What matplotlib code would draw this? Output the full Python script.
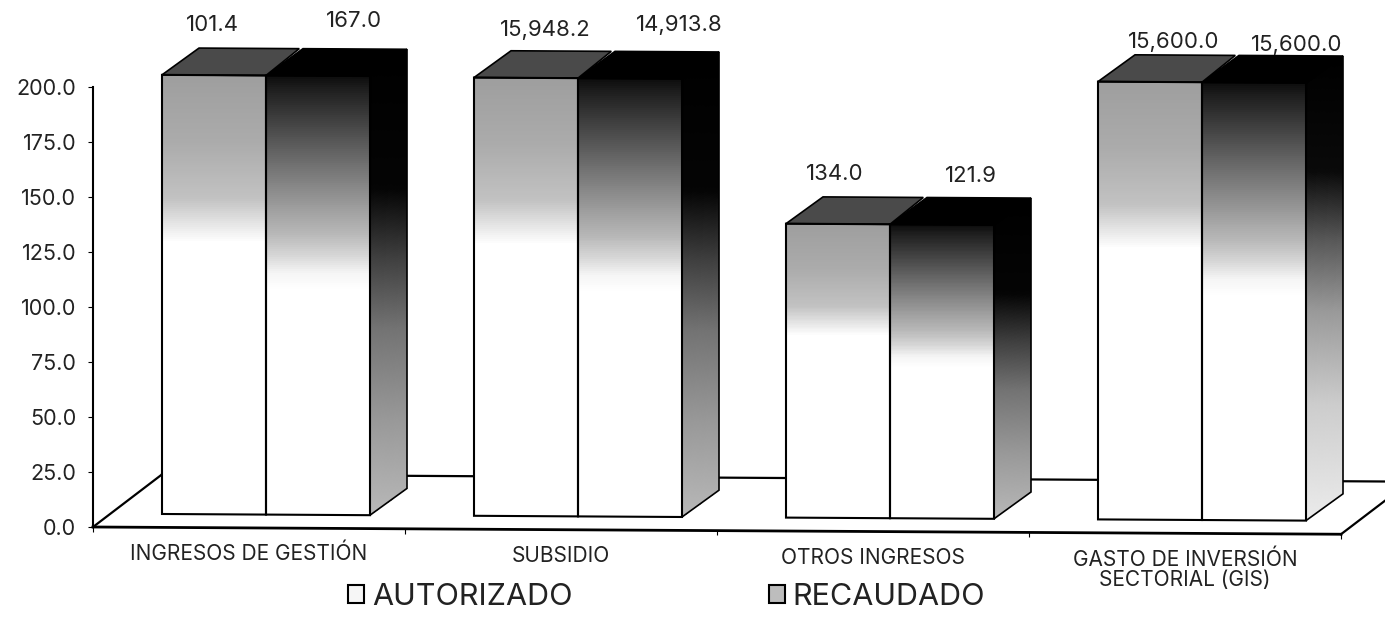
import matplotlib
matplotlib.use("Agg")
import matplotlib.pyplot as plt
from matplotlib.patches import Patch, Polygon
from matplotlib.transforms import Affine2D
import numpy as np

plt.rcParams['font.family'] = ['Inter', 'DejaVu Sans']

# values
categorias = ["INGRESOS DE GESTIÓN", "SUBSIDIO", "OTROS INGRESOS", "GASTO DE INVERSIÓN\nSECTORIAL (GIS)"]
series = ["AUTORIZADO", "RECAUDADO"]
alto_autorizado = [199.6, 199.2, 133.6, 199.0]
alto_recaudado = [199.6, 199.2, 133.6, 199.0]
etiqueta_autorizado = ["101.4", "15,948.2", "134.0", "15,600.0"]
etiqueta_recaudado = ["167.0", "14,913.8", "121.9", "15,600.0"]
ticks_y = [0, 25, 50, 75, 100, 125, 150, 175, 200]

# layout in pixels of the scan
W, H = 1385, 622
x0_px, y0_px, y200_px = 93, 527, 87
paso_px = 312
inclinacion = 0.0058  # the scan is slightly tilted
txt = "#222222"

# gray stops (fraction from the top of the bar, gray level)
grad_izq = ([0, .15, .28, .33, .38, 1], [.62, .67, .76, .88, 1, 1])
grad_der = ([0, .03, .18, .28, .36, .41, .45, .49, 1], [.05, .12, .4, .58, .72, .84, .96, 1, 1])
grad_lado = ([0, .3, .45, .6, .8, 1], [0, .02, .25, .45, .6, .72])
grad_lado_ultimo = ([0, .25, .4, .55, .75, 1], [0, .04, .35, .6, .8, .92])

fig = plt.figure(figsize=(W / 100, H / 100), dpi=100, facecolor="white")
ax = fig.add_axes([x0_px / W, 1 - y0_px / H, 4 * paso_px / W, (y0_px - y200_px) / H])
ax.set_xlim(0, 4)
ax.set_ylim(0, 200)

px_y = (y0_px - y200_px) / 200  # pixels per unit of y
skew = Affine2D.from_values(1, -inclinacion, 0, 1, 0, inclinacion * x0_px)
trans = ax.transData + skew

# bars sit inside the floor
piso_dx, piso_dy = 69 / paso_px, 53 / px_y
bar_x0 = 69 / paso_px
bar_w = 104 / paso_px
base = 6.1
prof_dx, prof_dy = 37 / paso_px, 27 / px_y


def cara(xs0, xs1, y0, y1, stops):
    # front face, vertical gradient
    f = np.linspace(0, 1, 220)
    gris = np.interp(f, stops[0], stops[1])
    X, Y = np.meshgrid([xs0, xs1], np.linspace(y1, y0, 221))
    ax.pcolormesh(X, Y, gris[:, None], cmap="gray", vmin=0, vmax=1, shading="flat",
                  transform=trans, clip_on=False, zorder=3, rasterized=True)


def cara_lado(xs0, xs1, y0, y1, stops):
    # sheared side face, the gradient stays level
    u = np.linspace(0, 1, 25)
    v = np.linspace(0, 1, 221)
    X = np.tile(xs0 + (xs1 - xs0) * u, (221, 1))
    Y = (y1 + (y0 - y1) * v)[:, None] + prof_dy * u[None, :]
    alto = y1 + prof_dy - y0
    yc = (Y[:-1, :-1] + Y[1:, 1:]) / 2
    gris = np.interp((y1 + prof_dy - yc) / alto, stops[0], stops[1])
    ax.pcolormesh(X, Y, gris, cmap="gray", vmin=0, vmax=1, shading="flat",
                  transform=trans, clip_on=False, zorder=3, rasterized=True)


def poly(pts, color, z=4, lw=1.5, ec="black"):
    ax.add_patch(Polygon(pts, closed=True, fc=color, ec=ec, lw=lw, transform=trans,
                         clip_on=False, zorder=z, joinstyle="miter"))


# floor
ax.plot([0, piso_dx], [0, piso_dy], color="black", lw=1.6, transform=trans, clip_on=False, zorder=1)
ax.plot([piso_dx, 4 + piso_dx], [piso_dy, piso_dy], color="black", lw=1.6, transform=trans, clip_on=False, zorder=1)
ax.plot([4, 4 + piso_dx], [0, piso_dy], color="black", lw=1.6, transform=trans, clip_on=False, zorder=1)
ax.plot([0, 4], [0, 0], color="black", lw=2, transform=trans, clip_on=False, zorder=2)
ax.vlines(range(5), -2.2, 0, color="black", lw=0.8, transform=trans, clip_on=False, zorder=2)

# bars
offs_izq = [(-2, 40), (19, 38), (-3, 40), (24, 30)]
offs_der = [(36, 45), (49, 43), (29, 39), (43, 28)]
for i in range(4):
    xa = i + bar_x0
    xb = xa + bar_w
    xc = xb + bar_w
    ta = base + alto_autorizado[i]
    tb = base + alto_recaudado[i]
    lado = grad_lado_ultimo if i == 3 else grad_lado
    cara(xa, xb, base, ta, grad_izq)
    cara(xb, xc, base, tb, grad_der)
    cara_lado(xc, xc + prof_dx, base, tb, lado)
    # top faces
    poly([(xb, tb), (xc, tb), (xc + prof_dx, tb + prof_dy), (xb + prof_dx, tb + prof_dy)], "black", lw=1.2)
    poly([(xa, ta), (xb, ta), (xb + prof_dx * .9, ta + prof_dy), (xa + prof_dx, ta + prof_dy)], "#4a4a4a", z=5, lw=1.2)
    # outlines
    poly([(xa, base), (xb, base), (xb, ta), (xa, ta)], "none", z=6)
    poly([(xb, base), (xc, base), (xc, tb), (xb, tb)], "none", z=6)
    poly([(xc, base), (xc + prof_dx, base + prof_dy), (xc + prof_dx, tb + prof_dy), (xc, tb)], "none", z=6, lw=1.2)
    # value labels
    ax.annotate(etiqueta_autorizado[i], ((xa + xb) / 2, ta), xycoords=trans, xytext=offs_izq[i],
                textcoords="offset pixels", ha="center", va="bottom", fontsize=16,
                color=txt, annotation_clip=False, zorder=7)
    ax.annotate(etiqueta_recaudado[i], ((xb + xc) / 2, tb), xycoords=trans, xytext=offs_der[i],
                textcoords="offset pixels", ha="center", va="bottom", fontsize=16,
                color=txt, annotation_clip=False, zorder=7)
    # category labels
    ax.annotate(categorias[i], (i + 0.5, 0), xycoords=trans, xytext=(0, -16), textcoords="offset pixels",
                ha="center", va="top", fontsize=15, color=txt, linespacing=1.02, annotation_clip=False)

# axis
for s in ["top", "right", "bottom"]:
    ax.spines[s].set_visible(False)
ax.spines["left"].set_linewidth(1.5)
ax.patch.set_alpha(0)
ax.set_xticks([])
ax.set_yticks(ticks_y)
ax.set_yticklabels(["%.1f" % t for t in ticks_y], fontsize=15.5, color=txt)
ax.tick_params(axis="y", length=3.6, width=0.8, pad=8.5)

# legend
handles = [Patch(fc="#f6f6f6", ec="black", lw=1.5), Patch(fc="#bdbdbd", ec="black", lw=1.5)]
fig.legend(handles, series, loc="center left", bbox_to_anchor=(348 / W, 1 - 597 / H), ncol=2, frameon=False,
           fontsize=22, labelcolor=txt, handlelength=0.53, handleheight=0.53, handletextpad=0.25,
           columnspacing=6.43, borderpad=0, borderaxespad=0)

fig.savefig("out.png", dpi=100, facecolor="white")
